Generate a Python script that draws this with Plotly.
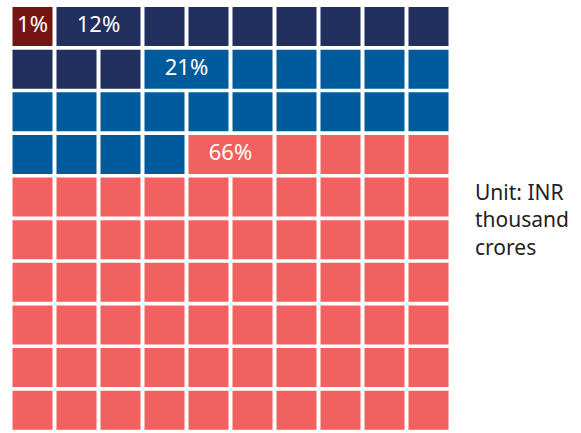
import plotly.graph_objects as go

# Waffle chart: 100 cells, one per percentage point
shares = [1, 12, 21, 66]
share_labels = ["1%", "12%", "21%", "66%"]
colors = ["#761414", "#212F5E", "#005B9D", "#F06160"]
unit_note = "Unit: INR<br>thousand<br>crores"

COLS = 10
PITCH_X, PITCH_Y = 44.0, 42.63          # pixel pitch of the grid
CELL_W, CELL_H = 40.0 / PITCH_X, 39.0 / PITCH_Y  # cell size in grid units
W, H = 581, 433
X0, Y0 = 12.5, 7.0                       # top-left offset of the grid

shapes = []
lab_x, lab_y, lab_t = [], [], []
idx = 0
for k, n in enumerate(shares):
    span = 2 if n > 1 else 1   # the first cell of a group is widened to hold its label
    j = 0
    while j < n:
        r, c = divmod(idx + j, COLS)
        w = CELL_W + (span - 1) if j == 0 else CELL_W
        shapes.append(dict(type="rect", xref="x", yref="y",
                           x0=c, x1=c + w, y0=r, y1=r + CELL_H,
                           fillcolor=colors[k], line=dict(width=0), layer="below"))
        if j == 0:
            lab_x.append(c + w / 2)
            lab_y.append(r + CELL_H / 2)
            lab_t.append(share_labels[k])
            j += span
        else:
            j += 1
    idx += n

fig = go.Figure()
fig.add_trace(go.Scatter(
    x=lab_x, y=lab_y, text=lab_t, mode="text",
    textfont=dict(family="Noto Sans", size=22, color="white"),
    textposition="middle center", hoverinfo="skip", showlegend=False))

fig.add_annotation(
    x=473 / W, y=1 - 219 / H, xref="paper", yref="paper",
    xanchor="left", yanchor="middle", align="left", showarrow=False,
    text=unit_note, font=dict(family="Noto Sans", size=21, color="#222222"))

fig.update_layout(
    width=W, height=H, margin=dict(l=0, r=0, t=0, b=0),
    paper_bgcolor="white", plot_bgcolor="white", shapes=shapes,
    xaxis=dict(range=[-X0 / PITCH_X, (W - X0) / PITCH_X], visible=False, fixedrange=True),
    yaxis=dict(range=[(H - Y0) / PITCH_Y, -Y0 / PITCH_Y], visible=False, fixedrange=True),
)

fig.write_html("out.html")
